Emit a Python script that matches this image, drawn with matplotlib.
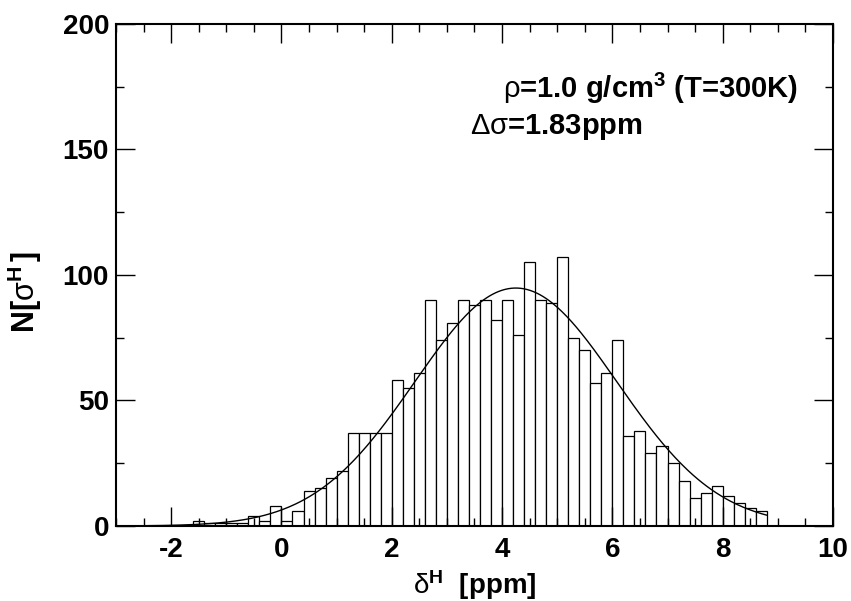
import numpy as np
from matplotlib import pyplot as plt
from matplotlib.ticker import MultipleLocator

# histogram of shifts, bins of 0.2 ppm starting at -1.6
binLeft = [-1.6, -1.4, -1.2, -1.0, -0.8, -0.6, -0.4, -0.2, 0.0, 0.2,
           0.4, 0.6, 0.8, 1.0, 1.2, 1.4, 1.6, 1.8, 2.0, 2.2,
           2.4, 2.6, 2.8, 3.0, 3.2, 3.4, 3.6, 3.8, 4.0, 4.2,
           4.4, 4.6, 4.8, 5.0, 5.2, 5.4, 5.6, 5.8, 6.0, 6.2,
           6.4, 6.6, 6.8, 7.0, 7.2, 7.4, 7.6, 7.8, 8.0, 8.2,
           8.4, 8.6]
counts = [2, 1, 1, 1, 1, 4, 2, 8, 2, 6,
          14, 15, 19, 22, 37, 37, 37, 37, 58, 55,
          61, 90, 74, 81, 90, 88, 90, 82, 90, 76,
          105, 90, 89, 107, 75, 70, 57, 61, 74, 36,
          38, 29, 32, 25, 18, 11, 13, 16, 12, 9,
          7, 6]
binWidth = 0.2

# gaussian fit
fitAmp = 94.8
fitMean = 4.25
fitSigma = 1.83
fitRange = [-2.6, 8.8]

plt.rcParams['font.family'] = ['Liberation Sans', 'DejaVu Sans']
plt.rcParams['axes.unicode_minus'] = False
plt.rcParams['mathtext.fontset'] = 'custom'
plt.rcParams['mathtext.rm'] = 'Liberation Sans:weight=normal'
plt.rcParams['mathtext.bf'] = 'Liberation Sans:weight=bold'
plt.rcParams['mathtext.it'] = 'Liberation Sans:italic'

fig = plt.figure(figsize=(8.51, 6.01), dpi=100)
ax = fig.add_axes([0.1363, 0.1248, 0.8425, 0.8353])

ax.bar(binLeft, counts, width=binWidth, align='edge',
       facecolor='white', edgecolor='black', linewidth=0.9)

xs = np.linspace(fitRange[0], fitRange[1], 400)
ax.plot(xs, fitAmp * np.exp(-(xs - fitMean) ** 2 / (2 * fitSigma ** 2)),
        color='black', linewidth=1.0)

ax.set_xlim(-3, 10)
ax.set_ylim(0, 200)
ax.xaxis.set_major_locator(MultipleLocator(2))
ax.xaxis.set_minor_locator(MultipleLocator(0.5))
ax.yaxis.set_major_locator(MultipleLocator(50))
ax.yaxis.set_minor_locator(MultipleLocator(25))
ax.tick_params(which='both', direction='in', top=True, right=True,
               labelsize=20, width=1.0)
ax.tick_params(which='major', length=14)
ax.tick_params(which='minor', length=6)
ax.tick_params(axis='x', pad=8)
ax.tick_params(axis='y', pad=5)
for lab in ax.get_xticklabels() + ax.get_yticklabels():
    lab.set_fontweight('bold')
for sp in ax.spines.values():
    sp.set_linewidth(1.5)

ax.set_xlabel(r"$\mathrm{\delta}^{\mathbf{H}}$  [ppm]", fontsize=20,
              fontweight='bold', labelpad=4)
ax.set_ylabel(r"N[$\mathrm{\sigma}^{\mathbf{H}}\,$]", fontsize=22,
              fontweight='bold')
ax.yaxis.set_label_coords(-0.1, 0.466)

ax.text(4.02, 174.5, r"$\mathrm{\rho}$=1.0 g/cm$^{\mathbf{3}}$ (T=300K)",
        fontsize=21, fontweight='bold', va='center', ha='left')
ax.text(3.42, 159, r"$\mathrm{\Delta\sigma}$=1.83ppm",
        fontsize=21, fontweight='bold', va='center', ha='left')

plt.savefig("out.png", dpi=100)
plt.close()
